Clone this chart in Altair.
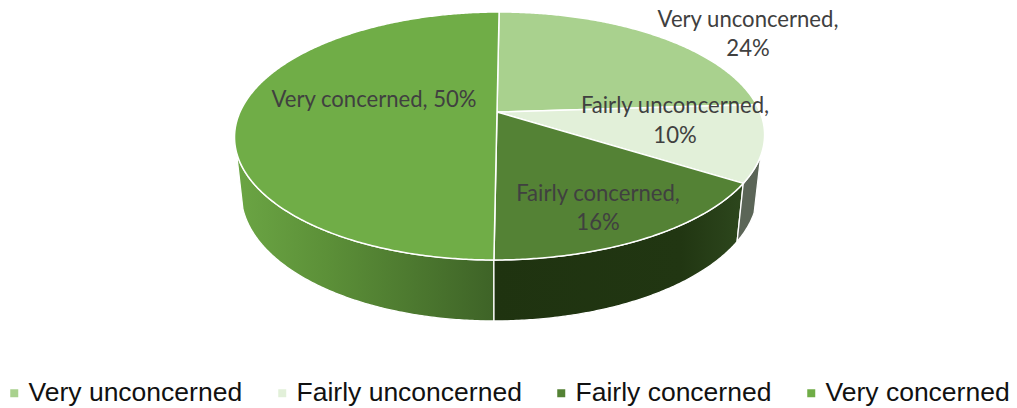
import math
import altair as alt
import pandas as pd

CATEGORIES = ["Very unconcerned", "Fairly unconcerned", "Fairly concerned", "Very concerned"]
SHARES = [24, 10, 16, 50]
TOP_COLOURS = ["#a9d18e", "#e2f0d9", "#548235", "#70ad47"]

LABEL_LINES = ["Very unconcerned,", "24%", "Fairly unconcerned,", "10%",
               "Fairly concerned,", "16%", "Very concerned, 50%"]
LABEL_X = [748, 748, 675, 675, 598, 598, 374]
LABEL_Y = [20, 49, 106, 136, 194, 223, 100]

# view of the tilted disc, in page pixels
X0, Y0, A_R, A_L, B, K, SHEAR = 497, 112, 263, 257, 119.35, 0.1935, 2.5
BOTTOM_SCALE = 0.975
RIGHT_TURN, LEFT_TURN = 110, 251.7


def top_point(deg):
    t = math.radians(deg)
    u, v = math.sin(t), math.cos(t)
    w = 1 + K * v
    a = A_R if u > 0 else A_L
    return X0 + (a * u + SHEAR * v) / w, Y0 - B * v / w


def bottom_point(deg):
    x, y = top_point(deg)
    v = math.cos(math.radians(deg))
    return X0 + (x - X0) * BOTTOM_SCALE, y + 55 - 6 * v


def degs(a, b):
    n = max(2, int(abs(b - a) * 2))
    return [a + (b - a) * i / n for i in range(n + 1)]


wedges, start = [], 0.0
edges = [0.0]
for cat, share in zip(CATEGORIES, SHARES):
    end = start + share * 3.6
    pts = [(X0, Y0)] + [top_point(d) for d in degs(start, end)] + [(X0, Y0)]
    for i, (x, y) in enumerate(pts):
        wedges.append({"cat": cat, "i": i, "x": x, "y": y})
    start = end
    edges.append(end)
wedges = pd.DataFrame(wedges)


def wall(a, b):
    rows = [top_point(d) for d in degs(a, b)] + [bottom_point(d) for d in degs(b, a)]
    rows.append(rows[0])
    return pd.DataFrame([{"i": i, "x": x, "y": y} for i, (x, y) in enumerate(rows)])


X = alt.X("x:Q", axis=None, scale=alt.Scale(domain=[8, 1009], nice=False, zero=False))
Y = alt.Y("y:Q", axis=None, scale=alt.Scale(domain=[406, 8], nice=False, zero=False))


def grad(stops):
    return alt.LinearGradient(
        gradient="linear", x1=0, y1=0, x2=1, y2=0,
        stops=[alt.GradientStop(offset=o, color=c) for o, c in stops],
    )


wall_style = dict(stroke="white", strokeWidth=1.3, interpolate="linear")
side_left = alt.Chart(wall(edges[3], LEFT_TURN)).mark_line(
    fill=grad([(0, "#6ba544"), (0.35, "#5c9038"), (1, "#3e6327")]), **wall_style
).encode(x=X, y=Y, order="i:Q")
side_front = alt.Chart(wall(edges[2], edges[3])).mark_line(
    fill=grad([(0, "#1f3310"), (0.75, "#213612"), (1, "#2d471d")]), **wall_style
).encode(x=X, y=Y, order="i:Q")
side_right = alt.Chart(wall(RIGHT_TURN, edges[2])).mark_line(
    fill="#5b6557", **wall_style
).encode(x=X, y=Y, order="i:Q")

top = alt.Chart(wedges).mark_line(stroke="white", strokeWidth=1.5, interpolate="linear").encode(
    x=X, y=Y, order="i:Q",
    fill=alt.Fill(
        "cat:N",
        scale=alt.Scale(domain=CATEGORIES, range=TOP_COLOURS),
        legend=alt.Legend(
            title=None, orient="none", legendX=-7, legendY=372, columns=4, direction="horizontal",
            gridAlign="none", symbolType="square", symbolSize=64, symbolStrokeWidth=0,
            labelFont="Liberation Sans", labelFontSize=26.5, labelColor="#111111",
            columnPadding=26, labelOffset=1, labelLimit=400,
        ),
    ),
)

labels = alt.Chart(pd.DataFrame({"t": LABEL_LINES, "x": LABEL_X, "y": LABEL_Y})).mark_text(
    font="Lato", fontSize=22.1, color="#404040", align="center", baseline="middle"
).encode(x=X, y=Y, text="t:N")

chart = alt.layer(side_left, side_front, side_right, top, labels).properties(
    width=1001, height=398, padding=0, autosize=alt.AutoSizeParams(type="none"),
    background="white",
).configure_view(stroke=None).configure_legend(labelFont="Liberation Sans")

chart.save("out.html", embed_options={"renderer": "svg", "actions": False})
